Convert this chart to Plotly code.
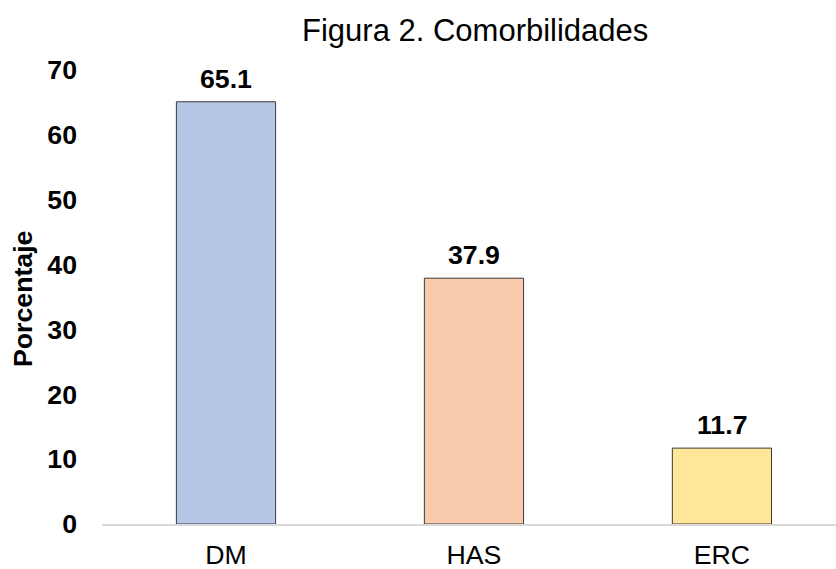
import plotly.graph_objects as go

categories = ["DM", "HAS", "ERC"]
values = [65.1, 37.9, 11.7]
bar_colors = ["#B4C7E7", "#F8CBAD", "#FFE699"]
y_ticks = [0, 10, 20, 30, 40, 50, 60, 70]

FONT = "Liberation Sans, Arial, sans-serif"
LABEL_SIZE = 26.7

fig = go.Figure()
fig.add_trace(go.Bar(
    x=categories,
    y=values,
    width=0.4,
    marker=dict(color=bar_colors, line=dict(color="#3a3a3a", width=1)),
    hoverinfo="skip",
))

# value labels above each bar
for cat, val in zip(categories, values):
    fig.add_annotation(
        x=cat, y=val, text=f"<b>{val:.1f}</b>", showarrow=False,
        yanchor="bottom", yshift=6,
        font=dict(family=FONT, size=LABEL_SIZE, color="#000"),
    )

fig.add_annotation(
    text="Figura 2. Comorbilidades", xref="paper", yref="paper",
    x=0.5, xshift=6, xanchor="center", y=1.0, yshift=40, yanchor="middle",
    showarrow=False,
    font=dict(family=FONT, size=31, color="#000"),
)
fig.add_annotation(
    text="<b>Porcentaje</b>", xref="paper", yref="paper",
    x=0, xshift=-79, xanchor="center", y=0.5, yshift=-2, yanchor="middle",
    textangle=-90, showarrow=False,
    font=dict(family=FONT, size=LABEL_SIZE, color="#000"),
)

fig.update_layout(
    width=836, height=569,
    margin=dict(l=102, r=0, t=70, b=45),
    paper_bgcolor="white", plot_bgcolor="white",
    showlegend=False,
    xaxis=dict(
        range=[-0.5, 2.46], showline=True, linecolor="#d9d9d9", linewidth=2,
        ticks="", tickfont=dict(family=FONT, size=LABEL_SIZE, color="#000"),
        showgrid=False, zeroline=False, ticklabelstandoff=6,
    ),
    yaxis=dict(
        range=[0, 70], tickvals=y_ticks,
        ticktext=[f"<b>{t}</b>" for t in y_ticks],
        tickfont=dict(family=FONT, size=LABEL_SIZE, color="#000"),
        showgrid=False, zeroline=False, showline=False, ticks="",
        ticklabelstandoff=24,
    ),
)

fig.write_html("out.html")
